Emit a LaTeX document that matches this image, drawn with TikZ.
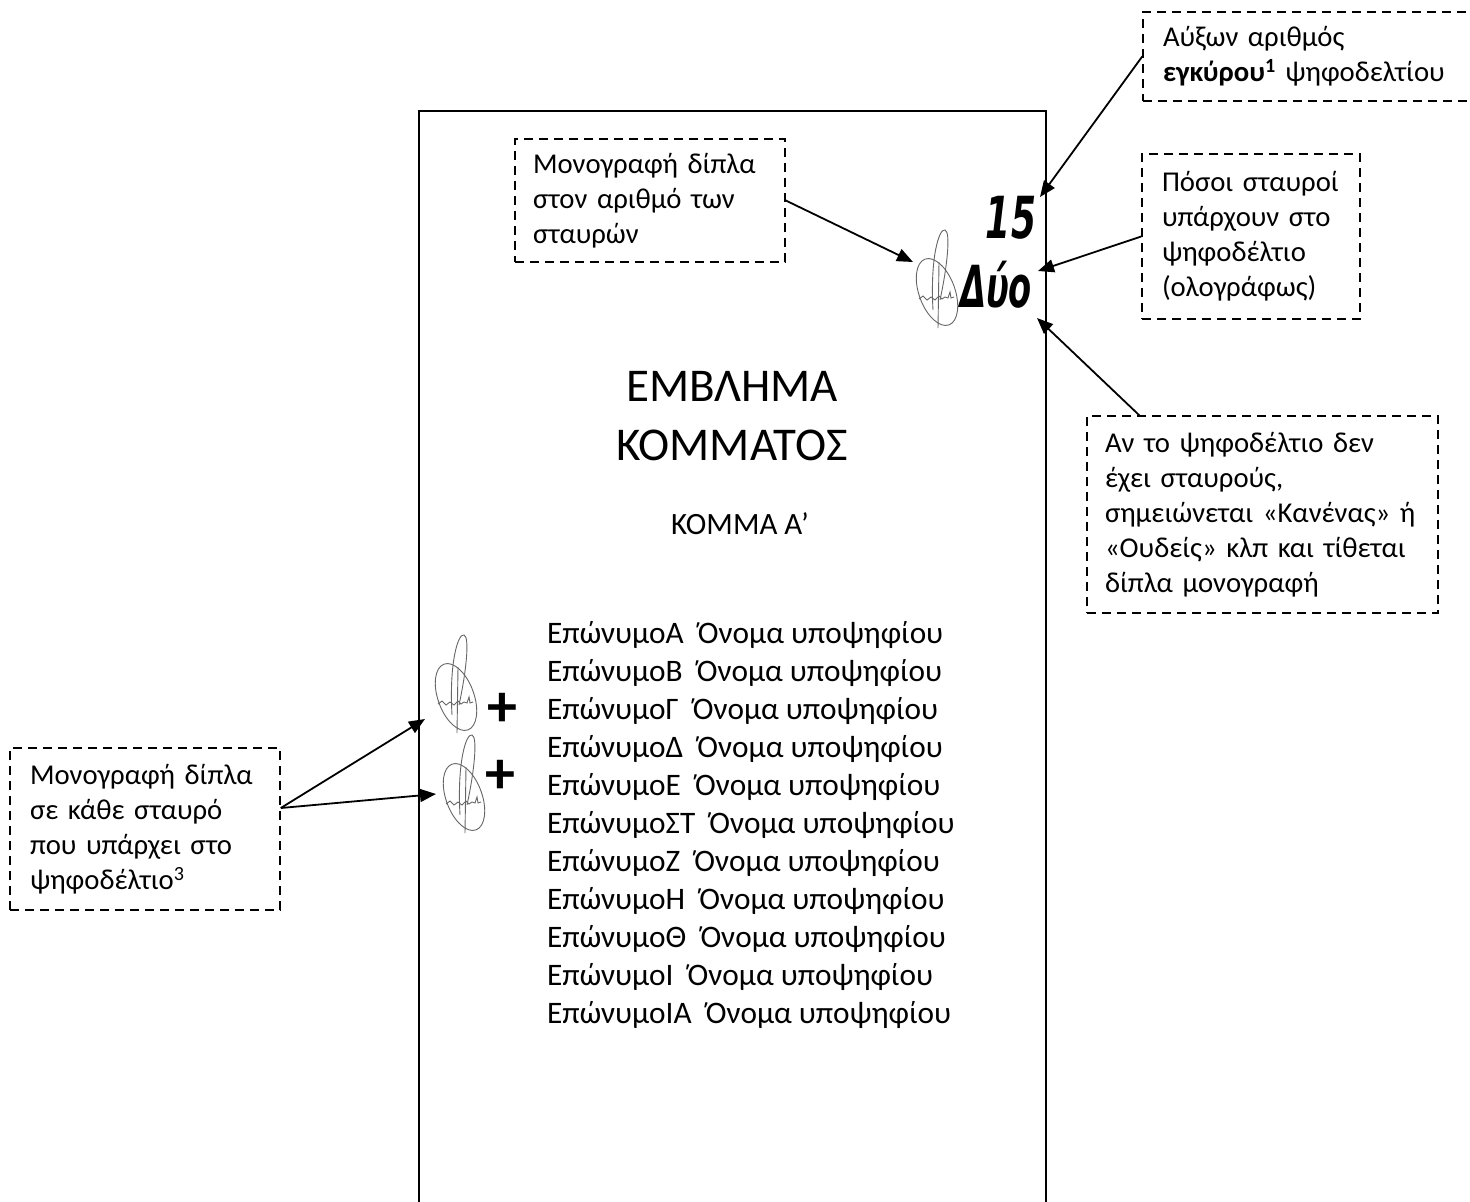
\documentclass[tikz,border=0pt]{standalone}
\usepackage{fontspec}
\setmainfont{Carlito}
\newfontfamily\handfont{DejaVu Sans}
\usetikzlibrary{arrows.meta,calc}
\tikzset{
  notebox/.style={draw, dash pattern=on 9pt off 6pt, line width=1.6pt, rectangle,
    align=left, inner ysep=0pt, font=\fontsize{28.7}{35}\selectfont},
  arr/.style={line width=1.8pt, -{Triangle[length=16pt,width=13pt]}},
  sigline/.style={draw=black!60, line width=0.9pt},
  namefont/.style={font=\fontsize{31.3}{38}\selectfont, inner sep=0pt},
  hand/.style={font=\handfont\fontsize{58}{58}\selectfont\bfseries\itshape, inner sep=0pt},
  plussign/.style={font=\fontsize{60}{60}\selectfont\bfseries, inner sep=0pt},
  sig/.pic={
    \draw[sigline] (2,30) -- (3,-36);
    \draw[sigline, rotate around={20:(1,-6)}] (1,-6) ellipse (18 and 35);
    \draw[sigline] (-3,12) .. controls (-6,-40) and (3,-70) .. (9,-68)
      .. controls (15,-66) and (11,-30) .. (4,2);
    \draw[sigline] (-17,1) -- (-13,-2) -- (-9,2) -- (-5,-1) -- (-1,2) -- (3,-2)
      -- (6,1) -- (9,-1) -- (12,0) -- (14,-6) -- (15,0) -- (18,-1);
  }
}
\begin{document}
\begin{tikzpicture}[x=1pt,y=-1pt]
\useasboundingbox (0,0) rectangle (1470,1202);
\fill[white] (0,0) rectangle (1470,1202);
\clip (0,0) rectangle (1470,1202);

% ballot paper
\draw[line width=1.4pt] (419,1240) -- (419,111) -- (1046,111) -- (1046,1240);

\node[font=\fontsize{47}{59}\selectfont, align=center] (emb) at (732,416) {ΕΜΒΛΗΜΑ\\ΚΟΜΜΑΤΟΣ};
\node[font=\fontsize{31}{38}\selectfont] (komma) at (740,524) {ΚΟΜΜΑ Α’};

\foreach \t [count=\i] in {ΕπώνυμοΑ,ΕπώνυμοΒ,ΕπώνυμοΓ,ΕπώνυμοΔ,ΕπώνυμοΕ,ΕπώνυμοΣΤ,ΕπώνυμοΖ,ΕπώνυμοΗ,ΕπώνυμοΘ,ΕπώνυμοΙ,ΕπώνυμοΙΑ}
  \node[namefont, anchor=base west] (name\i) at (547,{643+38*(\i-1)}) {\t\ \ Όνομα υποψηφίου};

% handwriting
\node[hand] (n15) at (1011,218) {\scalebox{0.62}[1]{15}};
\node[hand] (duo) at (996,285) {\scalebox{0.58}[1]{Δύο}};

% signatures
\pic at (936,298) {sig};
\pic at (455,703) {sig};
\pic at (463,803) {sig};

\node[plussign] (p1) at (502,710) {+};
\node[plussign] (p2) at (500,777) {+};

% note boxes
\node[notebox, minimum width=357pt, minimum height=89pt, inner xsep=20pt, text width=317pt] (b1) at (1321.5,56.5)
  {Αύξων αριθμός\\\textbf{εγκύρου}\textsuperscript{\textbf{1}} ψηφοδελτίου};
\node[notebox, minimum width=270pt, minimum height=123pt, inner xsep=18pt, text width=234pt] (b2) at (650,200.5)
  {Μονογραφή δίπλα\\στον αριθμό των\\σταυρών};
\node[notebox, minimum width=218pt, minimum height=165pt, inner xsep=20pt, text width=178pt] (b3) at (1251,236.5)
  {Πόσοι σταυροί\\υπάρχουν στο\\ψηφοδέλτιο\\(ολογράφως)};
\node[notebox, minimum width=351pt, minimum height=197pt, inner xsep=18pt, text width=315pt] (b4) at (1262.5,514.5)
  {Αν το ψηφοδέλτιο δεν\\έχει σταυρούς,\\σημειώνεται «Κανένας» ή\\«Ουδείς» κλπ και τίθεται\\δίπλα μονογραφή};
\node[notebox, minimum width=270pt, minimum height=162pt, inner xsep=20pt, text width=230pt] (b5) at (145,829)
  {Μονογραφή δίπλα\\σε κάθε σταυρό\\που υπάρχει στο\\ψηφοδέλτιο\textsuperscript{3}};

% arrow targets
\coordinate (t15) at (1040,197);
\coordinate (tsig) at (913,262);
\coordinate (tduo) at (1038,271);
\coordinate (tduo2) at (1037,318);
\coordinate (tsigA) at (425,719);
\coordinate (tsigB) at (436,794);

\draw[arr] (b1.west) -- (t15);
\draw[arr] (b2.east) -- (tsig);
\draw[arr] (b3.west) -- (tduo);
\draw[arr] ($(b4.north west)+(53,0)$) -- (tduo2);
\coordinate (s5) at ($(b5.east)+(0,-21)$);
\draw[arr] (s5) -- (tsigA);
\draw[arr] (s5) -- (tsigB);
\end{tikzpicture}
\end{document}
